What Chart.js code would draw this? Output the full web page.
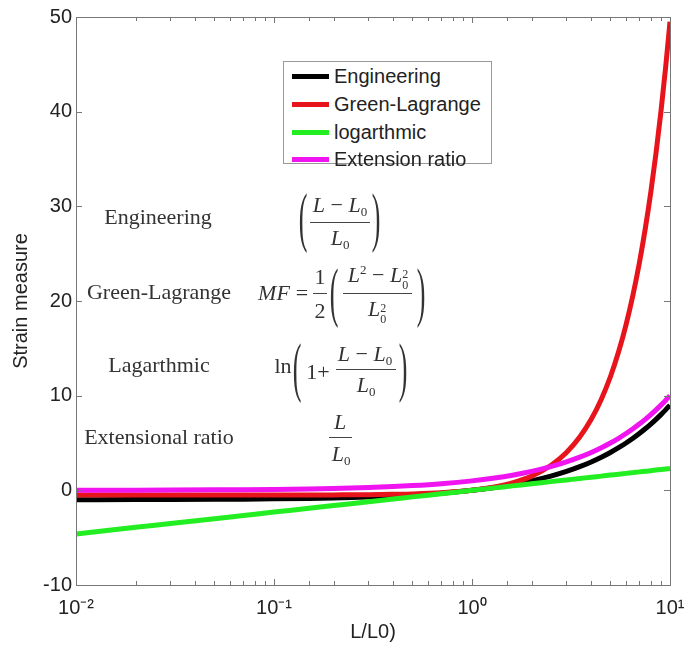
<!DOCTYPE html>
<html>
<head>
<meta charset="utf-8">
<script src="https://cdn.jsdelivr.net/npm/chart.js@4"></script>
<style>
body{margin:0;background:#fff;}
#wrap{position:relative;width:686px;height:647px;}
#c{position:absolute;left:0;top:0;}
.m{position:absolute;transform:translate(-50%,-50%);white-space:nowrap;font-family:"Liberation Serif","Times New Roman",serif;font-size:22px;color:#333;line-height:1;}
.m sub{font-size:13px;vertical-align:-4px;}
.m sup{font-size:13px;vertical-align:8px;}
.ss{display:inline-block;font-size:12px;line-height:11px;vertical-align:-7px;}
.bar{position:absolute;height:1px;background:#444;}
.legend{position:absolute;left:283px;top:61px;width:207px;height:101px;border:1px solid #999;background:#fff;font-family:"Liberation Sans",Arial,sans-serif;font-size:20px;color:#222;}
.legend .row{position:absolute;left:0;height:24px;line-height:24px;transform:translateY(-50%);}
.legend .sw{position:absolute;left:8px;top:10px;width:37px;height:5px;}
.legend .lb{position:absolute;left:50px;top:0;}
</style>
</head>
<body>
<div id="wrap">
<canvas id="c" width="686" height="647"></canvas>
<div class="legend" id="legend"></div>
<div id="notes"></div>
</div>
<script>
// Données
const lengthRatio=[0.01,0.02,0.03,0.05,0.07,0.1,0.15,0.2,0.3,0.4,0.5,0.7,1,1.3,1.6,2,2.5,3,3.5,4,4.5,5,5.5,6,6.5,7,7.5,8,8.5,9,9.5,10];
const engineering=[-0.99,-0.98,-0.97,-0.95,-0.93,-0.9,-0.85,-0.8,-0.7,-0.6,-0.5,-0.3,0,0.3,0.6,1,1.5,2,2.5,3,3.5,4,4.5,5,5.5,6,6.5,7,7.5,8,8.5,9];
const greenLagrange=[-0.5,-0.5,-0.5,-0.5,-0.5,-0.5,-0.49,-0.48,-0.46,-0.42,-0.38,-0.26,0,0.35,0.78,1.5,2.63,4,5.63,7.5,9.63,12,14.63,17.5,20.63,24,27.63,31.5,35.63,40,44.63,49.5];
const logarthmic=[-4.61,-3.91,-3.51,-3.0,-2.66,-2.3,-1.9,-1.61,-1.2,-0.92,-0.69,-0.36,0,0.26,0.47,0.69,0.92,1.1,1.25,1.39,1.5,1.61,1.7,1.79,1.87,1.95,2.01,2.08,2.14,2.2,2.25,2.3];
const extensionRatio=[0.01,0.02,0.03,0.05,0.07,0.1,0.15,0.2,0.3,0.4,0.5,0.7,1,1.3,1.6,2,2.5,3,3.5,4,4.5,5,5.5,6,6.5,7,7.5,8,8.5,9,9.5,10];

const seriesNames=["Engineering","Green-Lagrange","logarthmic","Extension ratio"];
const seriesValues=[engineering,greenLagrange,logarthmic,extensionRatio];
const seriesColors=["#000000","#e8141c","#22ee22","#f014f0"];
const yTicks=[-10,0,10,20,30,40,50];
const xTickLabels={"0.01":"10⁻²","0.1":"10⁻¹","1":"10⁰","10":"10¹"};

const isDecade=v=>Math.abs(Math.log10(v)-Math.round(Math.log10(v)))<1e-9;

// ---------- Cadre + graduations intérieures (style MATLAB) ----------
const framePlugin={
  id:"frame",
  afterDatasetsDraw(chart){
    const {ctx,chartArea:a,scales:{x,y}}=chart;
    ctx.save();
    ctx.strokeStyle="#777"; ctx.lineWidth=1;
    ctx.beginPath();
    x.ticks.forEach(t=>{
      const px=Math.round(x.getPixelForValue(t.value))+0.5;
      const len=isDecade(t.value)?6:4;
      ctx.moveTo(px,a.bottom); ctx.lineTo(px,a.bottom-len);
      ctx.moveTo(px,a.top); ctx.lineTo(px,a.top+len);
    });
    y.ticks.forEach(t=>{
      const py=Math.round(y.getPixelForValue(t.value))+0.5;
      ctx.moveTo(a.left,py); ctx.lineTo(a.left+6,py);
      ctx.moveTo(a.right,py); ctx.lineTo(a.right-6,py);
    });
    ctx.stroke();
    ctx.strokeRect(Math.round(a.left)+0.5,Math.round(a.top)+0.5,Math.round(a.right-a.left),Math.round(a.bottom-a.top));
    ctx.restore();
  }
};

const chart=new Chart(document.getElementById("c"),{
  type:"line",
  data:{datasets:seriesNames.map((n,i)=>({
    label:n,
    data:lengthRatio.map((v,j)=>({x:v,y:seriesValues[i][j]})),
    borderColor:seriesColors[i],
    backgroundColor:seriesColors[i],
    borderWidth:5,
    pointRadius:0,
    cubicInterpolationMode:"monotone",
    fill:false,
    order:3-i
  }))},
  options:{
    responsive:false,
    animation:false,
    layout:{padding:{left:0,right:16,top:17,bottom:0}},
    plugins:{legend:{display:false},tooltip:{enabled:false}},
    scales:{
      x:{
        type:"logarithmic",min:0.01,max:10,
        grid:{display:false,drawTicks:false},
        border:{display:false},
        afterFit:s=>{s.height=62; s.paddingLeft=0; s.paddingRight=0;},
        ticks:{autoSkip:false,maxRotation:0,padding:11,color:"#222",
          font:{family:"'Liberation Sans', Arial, sans-serif",size:20},
          callback:v=>xTickLabels[String(v)]||""},
        title:{display:true,text:"L/L0)",color:"#222",padding:{top:0,bottom:3},
          font:{family:"'Liberation Sans', Arial, sans-serif",size:20}}
      },
      y:{
        min:-10,max:50,
        grid:{display:false,drawTicks:false},
        border:{display:false},
        afterFit:s=>{s.width=76; s.paddingTop=0; s.paddingBottom=0;},
        afterBuildTicks:s=>{s.ticks=yTicks.map(v=>({value:v}));},
        ticks:{padding:4,color:"#222",font:{family:"'Liberation Sans', Arial, sans-serif",size:20}},
        title:{display:true,text:"Strain measure",color:"#222",padding:{top:9,bottom:0},
          font:{family:"'Liberation Sans', Arial, sans-serif",size:20}}
      }
    }
  },
  plugins:[framePlugin]
});

// ---------- Légende ----------
const legendBox=document.getElementById("legend");
const rowCenters=[14,42,70,97];
chart.data.datasets.forEach((ds,i)=>{
  const row=document.createElement("div");
  row.className="row"; row.style.top=rowCenters[i]+"px"; row.style.width="100%";
  row.innerHTML=`<div class="sw" style="background:${ds.borderColor}"></div><div class="lb">${ds.label}</div>`;
  legendBox.appendChild(row);
});

// ---------- Annotations / formules ----------
const notes=document.getElementById("notes");
function txt(html,x,y,extra){
  const e=document.createElement("div");
  e.className="m";
  e.innerHTML=html;
  e.style.left=x+"px"; e.style.top=y+"px";
  if(extra) e.style.cssText+=extra;
  notes.appendChild(e);
}
function bar(x1,x2,y){
  const e=document.createElement("div");
  e.className="bar"; e.style.left=x1+"px"; e.style.top=y+"px"; e.style.width=(x2-x1)+"px";
  notes.appendChild(e);
}
function paren(ch,x,y){ txt(ch,x,y,"font-size:26px;transform:translate(-50%,-50%) scaleY(2.5);"); }

const L="<i>L</i>", L0="<i>L</i><sub>0</sub>";
const L0sq='<i>L</i><span class="ss">2<br>0</span>';

txt("Engineering",158,217);
txt("Green-Lagrange",159,292);
txt("Lagarthmic",159,365);
txt("Extensional ratio",159,437);

// engineering
paren("(",303,219); paren(")",376,219);
txt(`${L} − ${L0}`,340,206); bar(310,370,222); txt(L0,340,239);
// green-lagrange
txt("<i>MF</i>",274,293); txt("=",302,293);
txt("1",320,277); bar(313,327,293); txt("2",320,311);
paren("(",334,294); paren(")",421,294);
txt(`${L}<sup>2</sup> − ${L0sq}`,378,277); bar(343,412,293); txt(L0sq,377,311);
// logarithmic
txt("ln",283,366);
paren("(",297,369); paren(")",403,369);
txt("1+",318,372); txt(`${L} − ${L0}`,365,355); bar(336,396,369); txt(L0,366,386);
// extension ratio
txt(L,340,422); bar(329,352,437); txt(L0,341,455);
</script>
</body>
</html>
